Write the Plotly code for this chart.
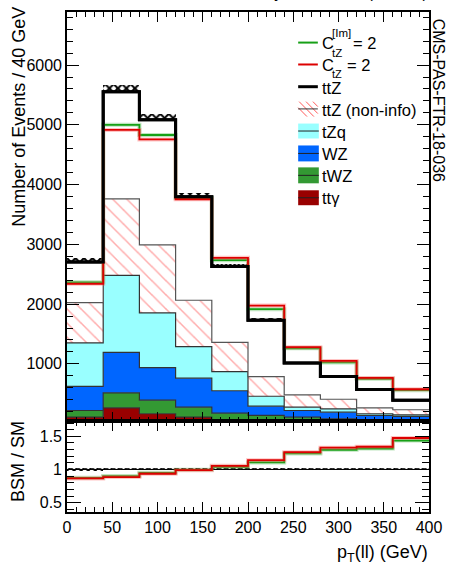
import numpy as np
import plotly.graph_objects as go

# ---- data: p_T(ll) distribution, 40 GeV bins ----
edges = [0, 40, 80, 120, 160, 200, 240, 280, 320, 360, 400]
tt_gamma = [110, 265, 165, 110, 60, 40, 30, 25, 22, 20]
twz = [110, 250, 227, 165, 115, 97, 78, 57, 40, 32]
wz = [405, 677, 545, 485, 375, 155, 112, 110, 75, 68]
tzq = [725, 1290, 916, 530, 320, 166, 55, 56, 28, 28]
ttz_noninfo = [675, 1278, 1137, 775, 490, 329, 207, 160, 100, 84]
ttz = [680, 1795, 2095, 1730, 1270, 945, 533, 382, 305, 158]
sm_unc = [60, 110, 100, 70, 45, 30, 20, 15, 11, 8]
bsm_ctz_im = [2365, 5000, 4830, 3775, 2735, 1915, 1260, 1025, 750, 560]
bsm_ctz = [2340, 4915, 4755, 3755, 2775, 1975, 1280, 1050, 765, 575]

# ---- geometry helpers (pixels -> paper) ----
W, H = 452, 568
ML, MR, MT, MB = 67, 17, 10, 56
PW, PH = W - ML - MR, H - MT - MB
SPLIT = 91 / PH


def px(x):
    return (x - ML) / PW


def py(y):
    return (H - MB - y) / PH


FONT = "Liberation Sans, Arial, Helvetica, sans-serif"

edges_a = np.array(edges, dtype=float)
centers = 0.5 * (edges_a[:-1] + edges_a[1:])
widths = np.diff(edges_a)

stack = [
    ("tt\u03b3", tt_gamma, "#990000", None),
    ("tWZ", twz, "#339933", None),
    ("WZ", wz, "#0066ff", None),
    ("tZq", tzq, "#99ffff", None),
    ("ttZ (non-info)", ttz_noninfo, "white", "hatch"),
    ("ttZ", ttz, "white", "total"),
]


def step_y(vals):
    v = list(np.asarray(vals, dtype=float))
    return v + [v[-1]]


fig = go.Figure()

cum = np.zeros(len(centers))
for i, (name, vals, col, kind) in enumerate(stack):
    cum = cum + np.asarray(vals, dtype=float)
    if kind == "total":
        line = dict(shape="hv", color="black", width=3)
    elif kind == "hatch":
        line = dict(shape="hv", color="#555555", width=1.2)
    else:
        line = dict(shape="hv", color="#333333", width=1.2)
    tr = go.Scatter(
        x=edges, y=step_y(cum), mode="lines", line=line,
        fill="tozeroy" if i == 0 else "tonexty", fillcolor=col,
        name=name, showlegend=False, hoverinfo="skip",
        xaxis="x", yaxis="y",
    )
    if kind == "hatch":
        tr.fillpattern = dict(shape="\\", fgcolor="#ff5a5a", bgcolor="white",
                              size=10, solidity=0.15)
    fig.add_trace(tr)

sm_total = cum.copy()
unc = np.asarray(sm_unc, dtype=float)

# BSM predictions
bsm_lines = [
    (bsm_ctz_im, "#17a017", "rgba(40,170,40,0.30)"),
    (bsm_ctz, "#dd0000", "rgba(255,90,90,0.35)"),
]
for vals, col, halo in bsm_lines:
    fig.add_trace(go.Scatter(x=edges, y=step_y(vals), mode="lines",
                             line=dict(shape="hv", color=halo, width=4),
                             showlegend=False, hoverinfo="skip", xaxis="x", yaxis="y"))
    fig.add_trace(go.Scatter(x=edges, y=step_y(vals), mode="lines",
                             line=dict(shape="hv", color=col, width=1.8),
                             showlegend=False, hoverinfo="skip", xaxis="x", yaxis="y"))

# SM total redrawn on top, with its uncertainty band
fig.add_trace(go.Scatter(x=edges, y=step_y(sm_total), mode="lines",
                         line=dict(shape="hv", color="black", width=3),
                         showlegend=False, hoverinfo="skip", xaxis="x", yaxis="y"))
fig.add_trace(go.Bar(x=centers, y=2 * unc, base=sm_total - unc, width=widths,
                     marker=dict(color="rgba(255,255,255,0)", line=dict(width=0),
                                 pattern=dict(shape="x", fgcolor="black", fgopacity=1,
                                              bgcolor="rgba(255,255,255,0)",
                                              fillmode="overlay",
                                              size=6, solidity=0.55)),
                     showlegend=False, hoverinfo="skip", xaxis="x", yaxis="y"))

# ---- ratio panel ----
rel = unc / sm_total
fig.add_trace(go.Bar(x=centers, y=2 * rel, base=1 - rel, width=widths,
                     marker=dict(color="rgba(255,255,255,0)", line=dict(width=0),
                                 pattern=dict(shape="x", fgcolor="black", fgopacity=1,
                                              bgcolor="rgba(255,255,255,0)",
                                              fillmode="overlay",
                                              size=5, solidity=0.55)),
                     showlegend=False, hoverinfo="skip", xaxis="x2", yaxis="y2"))
fig.add_trace(go.Scatter(x=[edges[0], edges[-1]], y=[1, 1], mode="lines",
                         line=dict(color="black", width=1),
                         showlegend=False, hoverinfo="skip", xaxis="x2", yaxis="y2"))
for vals, col, halo in bsm_lines:
    r = np.asarray(vals, dtype=float) / sm_total
    fig.add_trace(go.Scatter(x=edges, y=step_y(r), mode="lines",
                             line=dict(shape="hv", color=halo, width=4),
                             showlegend=False, hoverinfo="skip", xaxis="x2", yaxis="y2"))
    fig.add_trace(go.Scatter(x=edges, y=step_y(r), mode="lines",
                             line=dict(shape="hv", color=col, width=1.8),
                             showlegend=False, hoverinfo="skip", xaxis="x2", yaxis="y2"))

# ---- axes ----
axis_common = dict(
    showline=True, linecolor="black", linewidth=1.6, mirror="allticks",
    ticks="inside", tickcolor="black", tickwidth=1, showgrid=False,
    zeroline=False, tickfont=dict(family=FONT, size=16, color="black"),
)

fig.update_layout(
    width=W, height=H,
    margin=dict(l=ML, r=MR, t=MT, b=MB),
    paper_bgcolor="white", plot_bgcolor="white",
    barmode="overlay", bargap=0,
    showlegend=False,
    font=dict(family=FONT, size=16, color="black"),
    xaxis=dict(axis_common, range=[0, 400], anchor="y", matches="x2",
               tick0=0, dtick=50, ticklen=10, showticklabels=False,
               minor=dict(ticks="inside", dtick=10, ticklen=5, tickcolor="black")),
    yaxis=dict(axis_common, range=[38, 6888], domain=[SPLIT, 1], anchor="x",
               tick0=0, dtick=1000, ticklen=12,
               minor=dict(ticks="inside", dtick=200, ticklen=6, tickcolor="black")),
    xaxis2=dict(axis_common, range=[0, 400], anchor="y2",
                tick0=0, dtick=50, ticklen=10,
                minor=dict(ticks="inside", dtick=10, ticklen=5, tickcolor="black")),
    yaxis2=dict(axis_common, range=[0.359, 1.725], domain=[0, SPLIT], anchor="x2",
                tick0=0.5, dtick=0.5, ticklen=14,
                minor=dict(ticks="inside", dtick=0.1, ticklen=7, tickcolor="black")),
)

# ---- text ----
ann = []


def text(x, y, s, size=16.5, xa="left", ya="middle", angle=0):
    ann.append(dict(x=px(x), y=py(y), xref="paper", yref="paper", text=s,
                    showarrow=False, xanchor=xa, yanchor=ya, textangle=angle,
                    borderpad=0,
                    font=dict(family=FONT, size=size, color="black")))


text(18, 4, "Number of Events / 40 GeV", size=18, xa="center", ya="top", angle=-90)
text(17, 461, "BSM / SM", size=18, xa="center", ya="middle", angle=-90)
text(435, 554, "p<sub>T</sub>(ll) (GeV)", size=18, xa="right", ya="middle")
text(445, 16, "CMS-PAS-FTR-18-036", size=16, xa="center", ya="top", angle=90)
text(287, 0, "CMS Phase-2 Simulation Preliminary", size=16, xa="right", ya="bottom")
text(435, 0, "3 ab<sup>-1</sup> (14 TeV)", size=16, xa="right", ya="bottom")

# legend
shapes = []


def hline(x0, x1, y, color, width):
    shapes.append(dict(type="line", xref="paper", yref="paper", x0=px(x0), x1=px(x1),
                       y0=py(y), y1=py(y), line=dict(color=color, width=width)))


def box(x0, x1, y0, y1, color):
    shapes.append(dict(type="rect", xref="paper", yref="paper", x0=px(x0), x1=px(x1),
                       y0=py(y1), y1=py(y0), fillcolor=color, line=dict(width=0)))


LX0, LX1, TX = 302, 322, 325
hline(LX0, LX1, 40.7, "#17a017", 2)
text(TX, 41, "C")
text(335, 31, "[Im]", size=11.5)
text(335, 51, "tZ", size=11.5)
text(357, 41, "= 2")

hline(LX0, LX1, 62.7, "#dd0000", 2)
text(TX, 63, "C")
text(335, 72, "tZ", size=11)
text(351, 63, "= 2")

hline(LX0, LX1, 85, "black", 3)
text(TX, 86, "ttZ")

# hatched icon
for k in range(4):
    x0 = LX0 - 6 + 7 * k
    xa, xb = max(x0, LX0), min(x0 + 15, LX1)
    shapes.append(dict(type="line", xref="paper", yref="paper",
                       x0=px(xa), y0=py(100 + (xa - x0)),
                       x1=px(xb), y1=py(100 + (xb - x0)),
                       line=dict(color="#ff5a5a", width=1)))
hline(LX0, LX1, 107.3, "#333333", 1)
text(TX, 108, "ttZ (non-info)")

for (y0, y1, col, lab) in [(122, 137, "#99ffff", "tZq"), (144, 160, "#0066ff", "WZ"),
                          (166, 182, "#339933", "tWZ"), (189, 204, "#990000", "tt\u03b3")]:
    box(LX0, LX1 + 1, y0, y1, col)
    hline(LX0, LX1 + 1, (y0 + y1) / 2, "#222222", 1)
    text(TX, (y0 + y1) / 2 + 0.5, lab)

fig.update_layout(annotations=ann, shapes=shapes)

fig.write_html("out.html")
